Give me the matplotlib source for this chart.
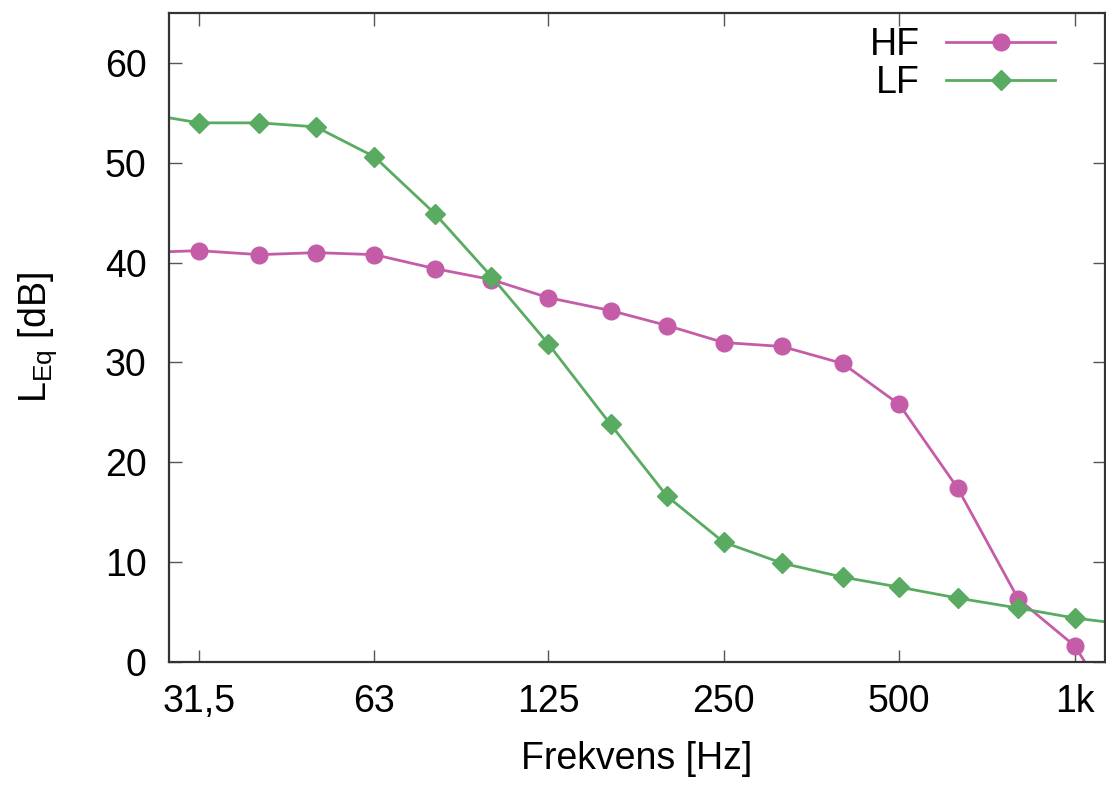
import matplotlib
matplotlib.use("Agg")
import matplotlib.pyplot as plt

# third-octave band centres (Hz); 25 and 1250 lie just outside the view
freq = [25, 31.5, 40, 50, 63, 80, 100, 125, 160, 200, 250, 315, 400, 500, 630, 800, 1000, 1250]
hf = [41.0, 41.2, 40.8, 41.0, 40.8, 39.4, 38.3, 36.5, 35.2, 33.7, 32.0, 31.6, 29.9, 25.8, 17.4, 6.3, 1.6, -7.4]
lf = [55.0, 54.0, 54.0, 53.6, 50.6, 44.9, 38.6, 31.9, 23.8, 16.6, 12.0, 9.9, 8.5, 7.5, 6.4, 5.4, 4.4, 3.7]

xticks = [31.5, 63, 125, 250, 500, 1000]
xticklabels = ["31,5", "63", "125", "250", "500", "1k"]
yticks = [0, 10, 20, 30, 40, 50, 60]

plt.rcParams["font.family"] = ["Liberation Sans", "DejaVu Sans"]
plt.rcParams["mathtext.fontset"] = "custom"
plt.rcParams["mathtext.rm"] = "Liberation Sans"

fig = plt.figure(figsize=(11.06, 7.85), dpi=100)
ax = fig.add_axes([0.1528, 0.1567, 0.8462, 0.8267])

ax.plot(freq, hf, color="#c55ca8", lw=2.0, marker="o", ms=12, label="HF")
ax.plot(freq, lf, color="#5aab62", lw=2.0, marker="D", ms=10, label="LF")

ax.set_xscale("log")
ax.set_xlim(28.0, 1126)
ax.set_ylim(0, 65)
ax.set_xticks(xticks)
ax.set_xticklabels(xticklabels)
ax.minorticks_off()
ax.set_yticks(yticks)
ax.tick_params(direction="in", top=True, right=True, length=9, width=1.0,
               color="#555555", labelsize=27)
ax.tick_params(axis="x", pad=16)
ax.tick_params(axis="y", pad=16)
for sp in ax.spines.values():
    sp.set_linewidth(1.6)
    sp.set_color("#333333")

ax.set_xlabel("Frekvens [Hz]", fontsize=27, labelpad=15)
ax.set_ylabel(r"L$_\mathregular{Eq}$ [dB]", fontsize=27, labelpad=33)

ax.legend(loc="upper right", bbox_to_anchor=(0.983, 1.03), frameon=False,
          markerfirst=False, fontsize=27, handlelength=2.9, handletextpad=0.7,
          labelspacing=0.05)

fig.savefig("out.png", dpi=100)
